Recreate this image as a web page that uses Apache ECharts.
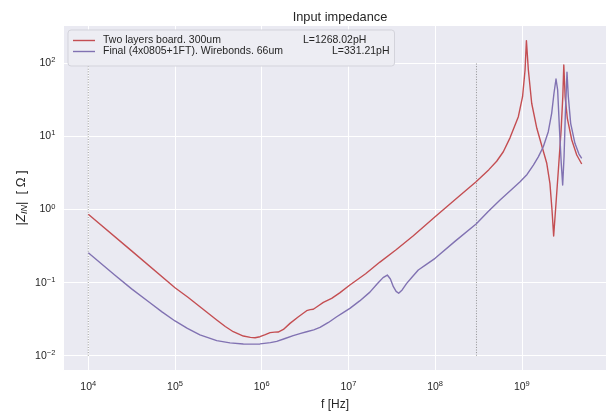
<!DOCTYPE html>
<html><head><meta charset="utf-8">
<script src="https://cdn.jsdelivr.net/npm/echarts@6/dist/echarts.min.js"></script>
<style>html,body{margin:0;padding:0;background:#fff}#c{width:610px;height:412px}</style>
</head><body><div id="c"></div>
<script>
// ---- data ----
const seriesNames = ['Two layers board. 300um', 'Final (4x0805+1FT). Wirebonds. 66um'];
const inductances = ['L=1268.02pH', 'L=331.21pH'];

const redF = [1.00e4, 3.16e4, 1.00e5, 1.41e5, 1.94e5, 3.03e5, 3.80e5, 4.70e5, 6.14e5, 7.41e5, 8.38e5, 9.55e5,
  1.10e6, 1.25e6, 1.41e6, 1.55e6, 1.78e6, 2.12e6, 2.63e6, 3.30e6, 3.63e6, 3.94e6,
  4.47e6, 5.14e6, 6.41e6, 7.94e6, 1.04e7, 1.58e7, 2.31e7, 3.55e7, 5.61e7, 1.00e8, 1.72e8, 2.97e8,
  3.30e8, 4.17e8, 5.13e8, 6.12e8, 7.31e8, 9.12e8, 1.02e9, 1.09e9, 1.13e9, 1.19e9, 1.30e9,
  1.49e9, 1.69e9, 1.94e9, 2.11e9, 2.23e9, 2.33e9, 2.48e9, 2.64e9, 2.84e9, 2.97e9,
  3.05e9, 3.16e9, 3.35e9, 3.77e9, 4.30e9, 4.91e9];
const redZ = [0.859, 0.272, 0.0851, 0.0631, 0.0468, 0.0308, 0.0251, 0.0213, 0.0186, 0.0178, 0.0176, 0.0182,
  0.0194, 0.0207, 0.0210, 0.0211, 0.0229, 0.0277, 0.0339, 0.0413, 0.0427, 0.0432,
  0.0479, 0.0537, 0.0610, 0.0724, 0.0927, 0.132, 0.191, 0.282, 0.437, 0.798, 1.38, 2.40,
  2.69, 3.51, 4.57, 6.17, 9.55, 18.6, 34.9, 80.9, 204, 80.9, 28.4,
  12.9, 7.62, 4.29, 2.28, 0.984, 0.434, 1.22, 3.47, 12.2, 34.9,
  94.8, 34.9, 17.7, 8.93, 5.57, 4.19];

const blueF = [1.00e4, 2.00e4, 3.16e4, 5.01e4, 7.08e4, 1.00e5, 1.39e5, 1.94e5, 3.03e5, 4.31e5, 6.14e5, 7.94e5, 9.55e5,
  1.26e6, 1.49e6, 1.86e6, 2.31e6, 2.82e6, 3.30e6, 3.98e6, 4.70e6, 5.89e6, 7.33e6, 8.71e6,
  1.04e7, 1.35e7, 1.77e7, 2.14e7, 2.51e7, 2.81e7, 3.05e7, 3.30e7, 3.55e7, 3.80e7, 4.17e7, 4.70e7,
  5.50e7, 6.40e7, 7.94e7, 1.00e8, 1.72e8, 2.97e8, 4.07e8, 5.61e8, 7.41e8, 9.55e8, 1.15e9,
  1.36e9, 1.55e9, 1.77e9, 2.02e9, 2.21e9, 2.35e9, 2.48e9, 2.59e9, 2.71e9, 2.85e9, 2.96e9,
  3.07e9, 3.18e9, 3.32e9, 3.44e9, 3.66e9, 4.10e9, 4.56e9, 4.91e9];
const blueZ = [0.256, 0.128, 0.0822, 0.0543, 0.0398, 0.0299, 0.0236, 0.0193, 0.0161, 0.0150, 0.0145, 0.0144, 0.0145,
  0.0151, 0.0157, 0.0172, 0.0188, 0.0202, 0.0213, 0.0226, 0.0244, 0.0285, 0.0341, 0.0389,
  0.0445, 0.0562, 0.0741, 0.0955, 0.117, 0.127, 0.112, 0.0879, 0.0759, 0.0715, 0.0794, 0.0977,
  0.121, 0.149, 0.178, 0.215, 0.372, 0.634, 0.933, 1.35, 1.82, 2.40, 3.02,
  4.06, 5.25, 7.23, 11.6, 20.7, 38.9, 61.0, 43.2, 13.6, 4.29, 2.16,
  5.27, 20.7, 75.3, 34.9, 15.1, 8.05, 5.74, 5.01];

const vlineX = [1e4, 3e8];
const vlineY = [1e-2, 1e2];

// ---- chart ----
const FONT = '"Liberation Sans", Arial, "DejaVu Sans", sans-serif';
const TXT = '#262626';
const RED = '#C44E52', BLUE = '#8172B2';

function powLabel(v) {
  const l = Math.log10(v), e = Math.round(l);
  if (Math.abs(l - e) > 1e-6) return '';
  return '{b|10}{s|' + (e < 0 ? '\u2212' + (-e) : e) + '}';
}
const tickRich = {
  b: { fontSize: 10.5, lineHeight: 12, fontFamily: FONT, color: TXT },
  s: { fontSize: 7.5, lineHeight: 8, padding: [0, 0, 6, 0], fontFamily: FONT, color: TXT }
};
const pair = (F, Z) => F.map((f, i) => [f, Z[i]]);

const series = [];
vlineX.forEach(x => series.push({
  type: 'line', silent: true, symbol: 'none', animation: false,
  data: [[x, vlineY[0]], [x, vlineY[1]]],
  lineStyle: { color: '#7a7a7a', width: 0.8, type: [1, 1.6] }, z: 1
}));
series.push({
  name: seriesNames[0], type: 'line', symbol: 'none', showSymbol: false, animation: false,
  data: pair(redF, redZ), lineStyle: { color: RED, width: 1.4, join: 'round' }, itemStyle: { color: RED }, z: 3
});
series.push({
  name: seriesNames[1], type: 'line', symbol: 'none', showSymbol: false, animation: false,
  data: pair(blueF, blueZ), lineStyle: { color: BLUE, width: 1.4, join: 'round' }, itemStyle: { color: BLUE }, z: 4
});

const chart = echarts.init(document.getElementById('c'), null, { renderer: 'canvas' });
chart.setOption({
  backgroundColor: '#fff',
  animation: false,
  title: {
    text: 'Input impedance', left: 335, top: 6, textAlign: 'center',
    textStyle: { fontFamily: FONT, fontSize: 12.8, fontWeight: 'normal', color: TXT }
  },
  grid: { left: 63.3, right: 3.3, top: 25, bottom: 41.3, show: true, backgroundColor: '#EAEAF2', borderWidth: 0,
    containLabel: false, outerBoundsMode: 'none' },
  legend: {
    data: seriesNames, orient: 'vertical', left: 68, top: 30,
    icon: 'path://M0 0 H22 V1.4 H0 Z',
    padding: [5, 5, 9, 5], itemWidth: 22, itemHeight: 11, itemGap: 0,
    backgroundColor: '#EDEDF3', borderColor: '#D3D3DB', borderWidth: 1, borderRadius: 3,
    textStyle: {
      fontFamily: FONT, fontSize: 10.5, color: TXT,
      rich: {
        a0: { width: 200, padding: [0, 0, 0, 3], fontFamily: FONT, fontSize: 10.5, color: TXT },
        a1: { width: 229, padding: [0, 0, 0, 3], fontFamily: FONT, fontSize: 10.5, color: TXT },
        l: { fontFamily: FONT, fontSize: 10.5, color: TXT }
      }
    },
    formatter: name => {
      const i = seriesNames.indexOf(name);
      return '{a' + i + '|' + name + '}{l|' + inductances[i] + '}';
    }
  },
  xAxis: {
    type: 'log', logBase: 10, min: 5150, max: 9.53e9,
    axisLine: { show: false }, axisTick: { show: false },
    splitLine: { show: true, lineStyle: { color: '#ffffff', width: 1 } },
    axisLabel: { formatter: powLabel, rich: tickRich, margin: 10 },
    name: 'f [Hz]', nameLocation: 'middle', nameGap: 28, nameMoveOverlap: false,
    nameTextStyle: { fontFamily: FONT, fontSize: 12, color: TXT }
  },
  yAxis: {
    type: 'log', logBase: 10, min: 0.00624, max: 334,
    axisLine: { show: false }, axisTick: { show: false },
    splitLine: { show: true, lineStyle: { color: '#ffffff', width: 1 } },
    axisLabel: { formatter: powLabel, rich: tickRich, margin: 8 },
    name: '{n||}{i|Z}{sub|IN}{n||  [ Ω ]}', nameLocation: 'middle', nameGap: 34, nameRotate: 90,
    nameMoveOverlap: false,
    nameTextStyle: {
      fontFamily: FONT, fontSize: 13, color: TXT,
      rich: {
        n: { fontFamily: FONT, fontSize: 13, color: TXT, lineHeight: 15 },
        i: { fontFamily: FONT, fontSize: 13, fontStyle: 'italic', color: TXT, lineHeight: 15 },
        sub: { fontFamily: FONT, fontSize: 9, fontStyle: 'italic', color: TXT, lineHeight: 10, padding: [5, 0, 0, 0] }
      }
    }
  },
  series: series
});
</script>
</body></html>
